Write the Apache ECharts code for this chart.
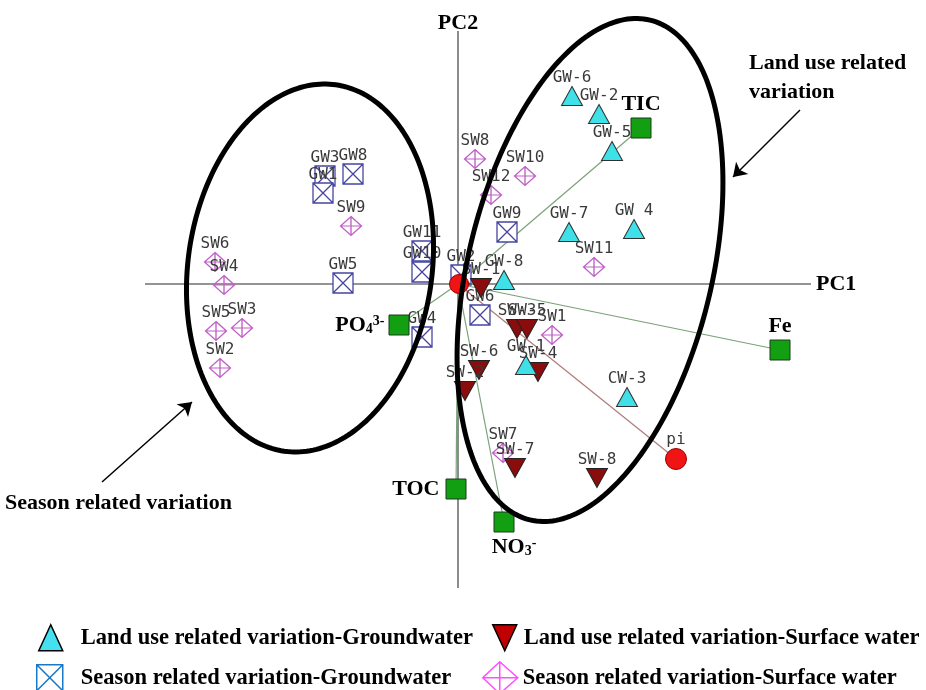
<!DOCTYPE html>
<html><head><meta charset="utf-8">
<script src="https://cdn.jsdelivr.net/npm/echarts@6/dist/echarts.min.js"></script>
<style>html,body{margin:0;padding:0;background:#fff}#c{width:926px;height:690px}</style>
</head><body><div id="c"></div>
<script>
// ---------- DATA (PC1, PC2 scores) ----------
// Land use related variation - Groundwater
const luGwNames = ['GW-6','GW-2','GW-5','GW-7','GW 4','GW-8','GW-1','CW-3'];
const luGwPC1   = [1.14, 1.41, 1.54, 1.11, 1.76, 0.46, 0.68, 1.69];
const luGwPC2   = [1.88, 1.70, 1.33, 0.52, 0.55, 0.04, -0.81, -1.13];
// Land use related variation - Surface water
const luSwNames = ['SW-1','SW-3','SW-5','SW-4','SW-6','SW-2','SW-7','SW-8'];
const luSwPC1   = [0.23, 0.59, 0.69, 0.80, 0.21, 0.07, 0.57, 1.39];
const luSwPC2   = [-0.04, -0.45, -0.45, -0.88, -0.86, -1.07, -1.84, -1.94];
// Season related variation - Groundwater
const seGwNames = ['GW3','GW8','GW1','GW11','GW10','GW5','GW4','GW9','GW2','GW6'];
const seGwPC1   = [-1.33, -1.05, -1.35, -0.36, -0.36, -1.15, -0.36, 0.49, 0.03, 0.22];
const seGwPC2   = [1.08, 1.10, 0.91, 0.33, 0.12, 0.01, -0.53, 0.52, 0.09, -0.31];
// Season related variation - Surface water
const seSwNames = ['SW6','SW4','SW5','SW3','SW2','SW9','SW8','SW10','SW12','SW11','SW1','SW7'];
const seSwPC1   = [-2.43, -2.34, -2.42, -2.16, -2.38, -1.07, 0.17, 0.67, 0.33, 1.36, 0.94, 0.45];
const seSwPC2   = [0.22, -0.01, -0.47, -0.44, -0.84, 0.58, 1.25, 1.08, 0.89, 0.17, -0.51, -1.69];
// Variable loadings
const varNames  = ['TIC','Fe','TOC','NO3-','PO43-'];
const varPC1    = [1.83, 3.22, -0.02, 0.46, -0.59];
const varPC2    = [1.56, -0.66, -2.05, -2.38, -0.41];
// pi vector and centre point
const piName = 'pi';
const piPC1 = 2.18, piPC2 = -1.75;
const centrePC1 = 0.01, centrePC2 = 0.0;
// Axis extents
const axisPC1 = [-3.13, 3.53];
const axisPC2 = [-3.04, 2.53];
// Group ellipses: centre PC1, centre PC2, semi-major, semi-minor, tilt (deg)
const ellipseLeft  = [-1.48, 0.16, 1.85, 1.22, 8];
const ellipseRight = [1.32, 0.14, 2.57, 1.22, 13.5];
// Annotation arrows [from, to]
const arrowLand   = [[3.42, 1.74], [2.75, 1.07]];
const arrowSeason = [[-3.56, -1.98], [-2.66, -1.18]];
const groupNames = ['Land use related variation-Groundwater','Land use related variation-Surface water',
                    'Season related variation-Groundwater','Season related variation-Surface water'];

// ---------- STYLE ----------
const SERIF = 'Liberation Serif';
const MONO = 'DejaVu Sans Mono';
const ptLabel = {show:true, position:'top', distance:0, formatter:'{b}', fontFamily:MONO, fontSize:16, color:'#3a3a3a'};
const boldTxt = {fontFamily:SERIF, fontWeight:'bold', fontSize:22, color:'#000'};
const xboxPath = 'path://M0,0H20V20H0Z M0,0L20,20 M20,0L0,20';
const diaPath  = 'path://M10,0L20,9L10,18L0,9Z M10,0L10,18 M0,9L20,9';
const varLabelCfg = {
  'TIC':   {position:'top', distance:2, formatter:'TIC'},
  'Fe':    {position:'top', distance:2, formatter:'Fe'},
  'TOC':   {position:'left', distance:6, formatter:'TOC'},
  'NO3-':  {position:'bottom', distance:4, offset:[10,0], formatter:'NO{sub|3}{sup|-}'},
  'PO43-': {position:'left', distance:4, formatter:'PO{sub|4}{sup|3-}'}
};
const rich = {
  sub:{fontFamily:SERIF, fontWeight:'bold', fontSize:14, verticalAlign:'bottom', color:'#000', lineHeight:14},
  sup:{fontFamily:SERIF, fontWeight:'bold', fontSize:14, verticalAlign:'top', color:'#000', lineHeight:14}
};

function pts(names, xs, ys){ return names.map((n,i)=>({name:n, value:[xs[i], ys[i]]})); }
function legTxt(padLeft){ return Object.assign({}, boldTxt, {fontSize:22.5, padding:[0,0,0,padLeft]}); }

const chart = echarts.init(document.getElementById('c'), null, {renderer:'canvas'});
const option = {
  animation:false,
  backgroundColor:'#fff',
  grid:{left:0, top:0, width:926, height:690},
  xAxis:{type:'value', min:-4.58, max:4.68, show:false},
  yAxis:{type:'value', min:-4.06, max:2.84, show:false},
  legend:[
    {left:33, top:619, itemWidth:24, itemHeight:26, selectedMode:false, textStyle:legTxt(13),
     data:[{name:groupNames[0], icon:'path://M12,0L24,26L0,26Z', itemStyle:{color:'#44e2f0', borderColor:'#000', borderWidth:1.5}}]},
    {left:487, top:619, itemWidth:24, itemHeight:26, selectedMode:false, textStyle:legTxt(2),
     data:[{name:groupNames[1], icon:'path://M0,0H24L12,26Z', itemStyle:{color:'#c00000', borderColor:'#000', borderWidth:1.5}}]},
    {left:31, top:659, itemWidth:26, itemHeight:26, selectedMode:false, textStyle:legTxt(13),
     data:[{name:groupNames[2], icon:'path://M0,0H26V26H0Z M0,0L26,26 M26,0L0,26', itemStyle:{color:'#fff', borderColor:'#1a78c8', borderWidth:1.5}}]},
    {left:477, top:656, itemWidth:35, itemHeight:32, selectedMode:false, textStyle:legTxt(0),
     data:[{name:groupNames[3], icon:'path://M17,0L35,16L17,32L0,16Z M17,0L17,32 M0,16L35,16', itemStyle:{color:'#fff', borderColor:'#ff50ff', borderWidth:1.5}}]}
  ],
  graphic:[
    {type:'text', left:749, top:49, silent:true,
     style:{text:'Land use related\nvariation', font:'bold 22px "Liberation Serif"', fill:'#000', lineHeight:29}},
    {type:'text', left:5, top:490, silent:true,
     style:{text:'Season related variation', font:'bold 22px "Liberation Serif"', fill:'#000', lineHeight:26}}
  ],
  series:[
    // axes
    {type:'lines', coordinateSystem:'cartesian2d', silent:true, z:1,
     lineStyle:{color:'#707070', width:1.6, opacity:1}, symbol:'none',
     label:{show:true, position:'end', distance:5, formatter:'{b}', fontFamily:SERIF, fontWeight:'bold', fontSize:22, color:'#000'},
     data:[{name:'PC1', coords:[[axisPC1[0],0],[axisPC1[1],0]]},
           {name:'PC2', coords:[[0,axisPC2[0]],[0,axisPC2[1]]], label:{offset:[0,8]}}]},
    // loading vectors
    {type:'lines', coordinateSystem:'cartesian2d', silent:true, z:2,
     lineStyle:{color:'#7aa27a', width:1.2, opacity:1}, symbol:'none',
     data: varNames.map((n,i)=>({name:n, coords:[[0,0],[varPC1[i],varPC2[i]]]}))
           .concat([{name:piName, coords:[[0,0],[piPC1,piPC2]], lineStyle:{color:'#b07a7a'}}])},
    // groups
    {name:groupNames[3], type:'scatter', z:3, symbol:diaPath, symbolSize:[21,19],
     itemStyle:{color:'rgba(255,255,255,0)', borderColor:'#c060c8', borderWidth:1.3, opacity:1},
     label:ptLabel, data:pts(seSwNames, seSwPC1, seSwPC2)},
    {name:groupNames[2], type:'scatter', z:3, symbol:xboxPath, symbolSize:[20,20],
     itemStyle:{color:'#fff', borderColor:'#4545a0', borderWidth:1.3, opacity:1},
     label:ptLabel, data:pts(seGwNames, seGwPC1, seGwPC2)},
    {name:groupNames[1], type:'scatter', z:4, symbol:'triangle', symbolRotate:180, symbolSize:[21,19],
     itemStyle:{color:'#8a0c0c', borderColor:'#222', borderWidth:1, opacity:1},
     label:ptLabel, data:pts(luSwNames, luSwPC1, luSwPC2)},
    {name:groupNames[0], type:'scatter', z:4, symbol:'triangle', symbolSize:[21,19],
     itemStyle:{color:'#3fe0e8', borderColor:'#303030', borderWidth:1, opacity:1},
     label:ptLabel, data:pts(luGwNames, luGwPC1, luGwPC2)},
    // pi and centre
    {type:'scatter', z:5, symbol:'circle', symbolSize:21,
     itemStyle:{color:'#f01414', borderColor:'#900', borderWidth:1, opacity:1},
     label:Object.assign({}, ptLabel, {show:true}),
     data:[{name:piName, value:[piPC1,piPC2]}, {name:'', value:[centrePC1,centrePC2], symbolSize:19, label:{show:false}}]},
    // variables
    {type:'scatter', z:6, symbol:'rect', symbolSize:20,
     itemStyle:{color:'#12a012', borderColor:'#1c3a1c', borderWidth:1, opacity:1},
     label:Object.assign({show:true, rich:rich}, boldTxt),
     data: varNames.map((n,i)=>({name:n, value:[varPC1[i],varPC2[i]], label:varLabelCfg[n]}))},
    // ellipses
    {type:'custom', coordinateSystem:'cartesian2d', z:10, silent:true, clip:false,
     encode:{x:0, y:1},
     data:[ellipseLeft, ellipseRight],
     renderItem:function(params, api){
       const cx=api.value(0), cy=api.value(1), a=api.value(2), b=api.value(3), th=api.value(4)*Math.PI/180;
       const p=[];
       for(let k=0;k<=240;k++){
         const t=k/240*2*Math.PI, u=a*Math.cos(t), v=b*Math.sin(t);
         p.push(api.coord([cx + u*Math.sin(th) + v*Math.cos(th), cy + u*Math.cos(th) - v*Math.sin(th)]));
       }
       return {type:'polygon', shape:{points:p}, style:{fill:'none', stroke:'#000', lineWidth:5}};
     }},
    // annotation arrows
    {type:'lines', coordinateSystem:'cartesian2d', silent:true, z:11,
     symbol:['none','arrow'], symbolSize:13,
     lineStyle:{color:'#000', width:1.5, opacity:1},
     data:[{coords:arrowLand}, {coords:arrowSeason}]}
  ]
};
chart.setOption(option);
</script></body></html>
